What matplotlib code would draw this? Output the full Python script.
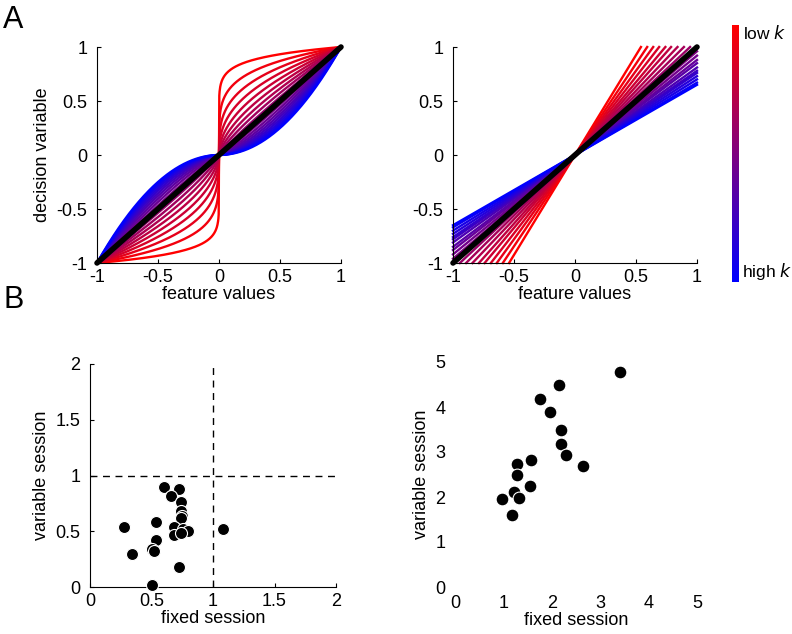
import numpy as np
import matplotlib
matplotlib.use("Agg")
import matplotlib.pyplot as plt
from matplotlib.colors import LinearSegmentedColormap

plt.rcParams['font.family'] = ['Liberation Sans', 'DejaVu Sans']
plt.rcParams['font.size'] = 13

# ---- data ----
# Panel A left: exponents k of the power-law transform (low k = red, high k = blue)
exponent_k = [0.1, 0.2, 0.3, 0.4, 0.5, 0.6, 0.7, 0.8, 0.9, 1.0,
              1.1, 1.2, 1.3, 1.4, 1.5, 1.6, 1.7, 1.8, 1.9, 2.0]
# Panel A right: linear gains (low k = steep/red, high k = shallow/blue)
gain_k = [1.85, 1.69, 1.56, 1.45, 1.35, 1.27, 1.19, 1.12, 1.06, 1.01,
          0.96, 0.92, 0.88, 0.85, 0.81, 0.78, 0.76, 0.73, 0.70, 0.67, 0.65]

# Panel B left
fixed_B1 = [0.60, 0.72, 0.66, 0.74, 0.74, 0.75, 0.74, 0.28, 0.54, 0.68, 0.68,
            0.76, 0.80, 0.74, 1.08, 0.54, 0.50, 0.52, 0.34, 0.72, 0.50]
variable_B1 = [0.90, 0.88, 0.82, 0.76, 0.68, 0.64, 0.62, 0.54, 0.58, 0.54, 0.47,
               0.52, 0.50, 0.48, 0.52, 0.42, 0.34, 0.32, 0.30, 0.18, 0.02]
# Panel B right
fixed_B2 = [3.40, 2.15, 1.75, 1.96, 2.20, 2.20, 2.30, 2.65, 1.58, 1.28, 1.28,
            1.54, 1.22, 1.33, 0.98, 1.17]
variable_B2 = [4.78, 4.48, 4.18, 3.88, 3.48, 3.18, 2.93, 2.70, 2.83, 2.73, 2.48,
               2.25, 2.12, 1.98, 1.95, 1.60]

cmap = LinearSegmentedColormap.from_list('rb', [(1, 0, 0), (0, 0, 1)])

fig = plt.figure(figsize=(7.92, 6.34), dpi=100)


def style(ax):
    for s in ['top', 'right']:
        ax.spines[s].set_visible(False)
    ax.tick_params(direction='in', length=3, labelsize=13, pad=7)
    for s in ['left', 'bottom']:
        ax.spines[s].set_linewidth(0.8)


# A left
axA1 = fig.add_axes([97 / 792, 1 - 263 / 634, 244 / 792, 216 / 634])
x = np.linspace(-1, 1, 801)
n1 = len(exponent_k)
for i, k in enumerate(exponent_k):
    axA1.plot(x, np.sign(x) * np.abs(x) ** k, color=cmap(i / (n1 - 1)), lw=1.7,
              clip_on=False)
axA1.plot([-1, 1], [-1, 1], color='black', lw=4, solid_capstyle='round', clip_on=False)
axA1.set_xlim(-1, 1)
axA1.set_ylim(-1, 1)
axA1.set_xticks([-1, -0.5, 0, 0.5, 1])
axA1.set_xticklabels(['-1', '-0.5', '0', '0.5', '1'])
axA1.set_yticks([-1, -0.5, 0, 0.5, 1])
axA1.set_yticklabels(['-1', '-0.5', '0', '0.5', '1'])
axA1.set_xlabel('feature values', labelpad=0)
axA1.set_ylabel('decision variable', labelpad=4)
style(axA1)
axA1.tick_params(axis='x', pad=4)

# A right
axA2 = fig.add_axes([453 / 792, 1 - 263 / 634, 244 / 792, 216 / 634])
n2 = len(gain_k)
for i, g in enumerate(gain_k):
    xe = min(1.0, 1.0 / g)
    axA2.plot([-xe, xe], [-g * xe, g * xe], color=cmap(i / (n2 - 1)), lw=1.7,
              clip_on=False)
axA2.plot([-1, 1], [-1, 1], color='black', lw=4, solid_capstyle='round', clip_on=False)
axA2.set_xlim(-1, 1)
axA2.set_ylim(-1, 1)
axA2.set_xticks([-1, -0.5, 0, 0.5, 1])
axA2.set_xticklabels(['-1', '-0.5', '0', '0.5', '1'])
axA2.set_yticks([-1, -0.5, 0, 0.5, 1])
axA2.set_yticklabels(['-1', '-0.5', '0', '0.5', '1'])
axA2.set_xlabel('feature values', labelpad=0)
style(axA2)
axA2.tick_params(axis='x', pad=4)

# colorbar
cax = fig.add_axes([732 / 792, 1 - 282 / 634, 7 / 792, 257 / 634])
grad = np.linspace(0, 1, 256).reshape(-1, 1)
cax.imshow(grad, aspect='auto', cmap=cmap, origin='upper')
cax.axis('off')
fig.text(743 / 792, 1 - 33 / 634, 'low $\\it{k}$', fontsize=12.5, va='center', ha='left')
fig.text(742 / 792, 1 - 272 / 634, 'high $\\it{k}$', fontsize=12.5, va='center', ha='left')

# B left
axB1 = fig.add_axes([90 / 792, 1 - 587 / 634, 246 / 792, 223 / 634])
axB1.plot([0, 2], [1, 1], ls=(0, (5, 4)), color='black', lw=1)
axB1.plot([1, 1], [0, 2], ls=(0, (5, 4)), color='black', lw=1)
axB1.scatter(fixed_B1, variable_B1, s=75, color='black', edgecolors='white',
             linewidths=0.8, zorder=3, clip_on=False)
axB1.set_xlim(0, 2)
axB1.set_ylim(0, 2)
axB1.set_xticks([0, 0.5, 1, 1.5, 2])
axB1.set_xticklabels(['0', '0.5', '1', '1.5', '2'])
axB1.set_yticks([0, 0.5, 1, 1.5, 2])
axB1.set_yticklabels(['0', '0.5', '1', '1.5', '2'])
axB1.set_xlabel('fixed session', labelpad=0)
axB1.set_ylabel('variable session', labelpad=4)
style(axB1)
axB1.tick_params(axis='x', pad=4)

# B right
axB2 = fig.add_axes([455 / 792, 1 - 587 / 634, 242 / 792, 225 / 634])
axB2.scatter(fixed_B2, variable_B2, s=85, color='black', edgecolors='white',
             linewidths=0.8, zorder=3, clip_on=False)
axB2.set_xlim(0, 5)
axB2.set_ylim(0, 5)
axB2.set_xticks([0, 1, 2, 3, 4, 5])
axB2.set_yticks([0, 1, 2, 3, 4, 5])
axB2.set_xlabel('fixed session', labelpad=0)
axB2.set_ylabel('variable session', labelpad=4)
style(axB2)
axB2.spines['left'].set_visible(False)
axB2.spines['bottom'].set_visible(False)
axB2.tick_params(length=0)
axB2.tick_params(axis='x', pad=6)

fig.text(3 / 792, 1 - 20 / 634, 'A', fontsize=22, va='center', ha='left')
fig.text(3 / 792, 1 - 300 / 634, 'B', fontsize=22, va='center', ha='left')

fig.savefig('out.png', dpi=100)
